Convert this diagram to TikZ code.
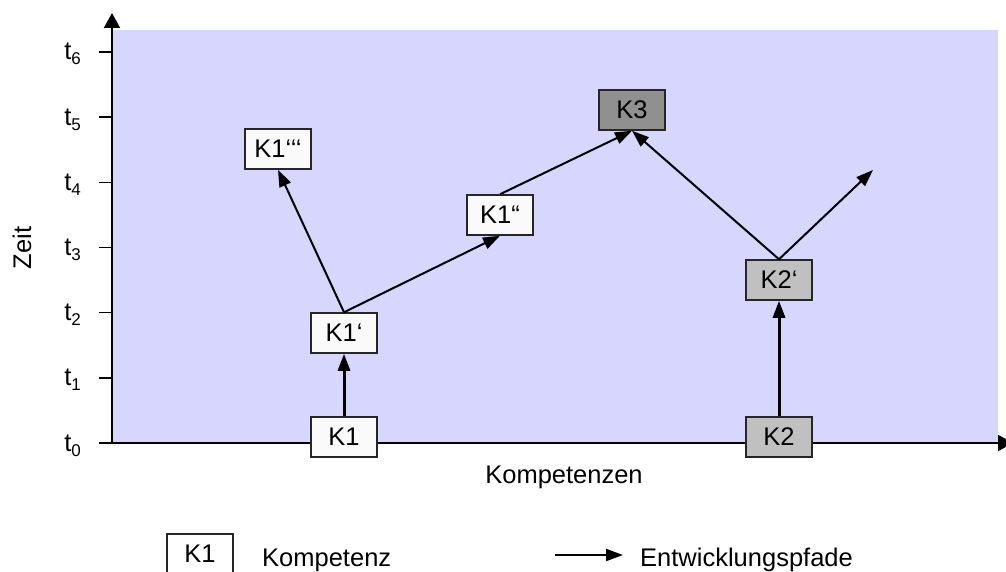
\documentclass[tikz,border=0pt]{standalone}
\usepackage{fontspec}
\setmainfont{Liberation Sans}
\usetikzlibrary{arrows.meta, positioning}
\definecolor{bgblue}{RGB}{214,214,255}
\definecolor{boxwhite}{RGB}{250,250,250}
\definecolor{kgray}{RGB}{192,192,192}
\definecolor{kdark}{RGB}{144,144,144}

\begin{document}
\begin{tikzpicture}[
  x=1pt, y=-1pt,
  komp/.style  = {rectangle, draw=black!85, line width=1.5pt, fill=boxwhite,
                  minimum width=66pt, minimum height=40pt, inner sep=0pt,
                  font=\fontsize{25.5}{30}\selectfont},
  kompg/.style = {komp, fill=kgray},
  kompd/.style = {komp, fill=kdark},
  lbl/.style   = {inner sep=0pt, font=\fontsize{25.5}{30}\selectfont},
  arr/.style   = {-{Triangle[length=17pt, width=12pt]}, line width=2pt},
  tarr/.style  = {arr, line width=3pt},
  axis/.style  = {-{Triangle[length=15pt, width=16pt]}, line width=2pt}
]
\useasboundingbox (0,0) rectangle (1006,572);

%% ── Background ───────────────────────────────────────────────────────────────
\fill[bgblue] (112,30) rectangle (998,443);

%% ── Axes ─────────────────────────────────────────────────────────────────────
\coordinate (O)    at (112,443);
\coordinate (ytop) at (112,13);
\coordinate (xend) at (1013,443);
\draw[axis] (O) -- (ytop);
\draw[axis] (O) -- (xend);

\foreach \i in {0,...,6} {
  \draw[line width=1.5pt] (99,443-65.17*\i) -- (112,443-65.17*\i);
  \node[lbl, anchor=base east] (t\i) at (81,451-65.17*\i)
    {t\raisebox{-5pt}{\fontsize{17}{20}\selectfont\i}};
}

\node[lbl, rotate=90] (zeit) at (22,248) {Zeit};
\node[lbl, anchor=base] (xlabel) at (564,483) {Kompetenzen};

%% ── Kompetenzen ──────────────────────────────────────────────────────────────
\node[komp]  (K1)  at (344,437) {K1};
\node[komp]  (K1a) at (344,333) {K1‘};
\node[komp]  (K1b) at (500,215) {K1“};
\node[komp]  (K1c) at (278,149) {K1‘‘‘};
\node[kompd] (K3)  at (632,110) {K3};
\node[kompg] (K2a) at (779,280) {K2‘};
\node[kompg] (K2)  at (779,437) {K2};
\coordinate  (K2end) at (873,170);

%% ── Entwicklungspfade ────────────────────────────────────────────────────────
\draw[tarr] (K1) -- (K1a);
\draw[tarr] (K2) -- (K2a);
\draw[arr] (K1a.north) -- (K1c.south);
\draw[arr] (K1a.north) -- (K1b.south);
\draw[arr] (K1b.north) -- (K3.south);
\draw[arr] (K2a.north) -- (K3.south);
\draw[arr] (K2a.north) -- (K2end);

%% ── Legend ───────────────────────────────────────────────────────────────────
\node[komp, fill=white] (legbox) at (200,554) {K1};
\node[lbl, anchor=base west] (legtext) at (262,566) {Kompetenz};
\coordinate (legA) at (555,555);
\coordinate (legB) at (623,555);
\draw[arr] (legA) -- (legB);
\node[lbl, anchor=base west] (legpath) at (640,566) {Entwicklungspfade};

\end{tikzpicture}
\end{document}
